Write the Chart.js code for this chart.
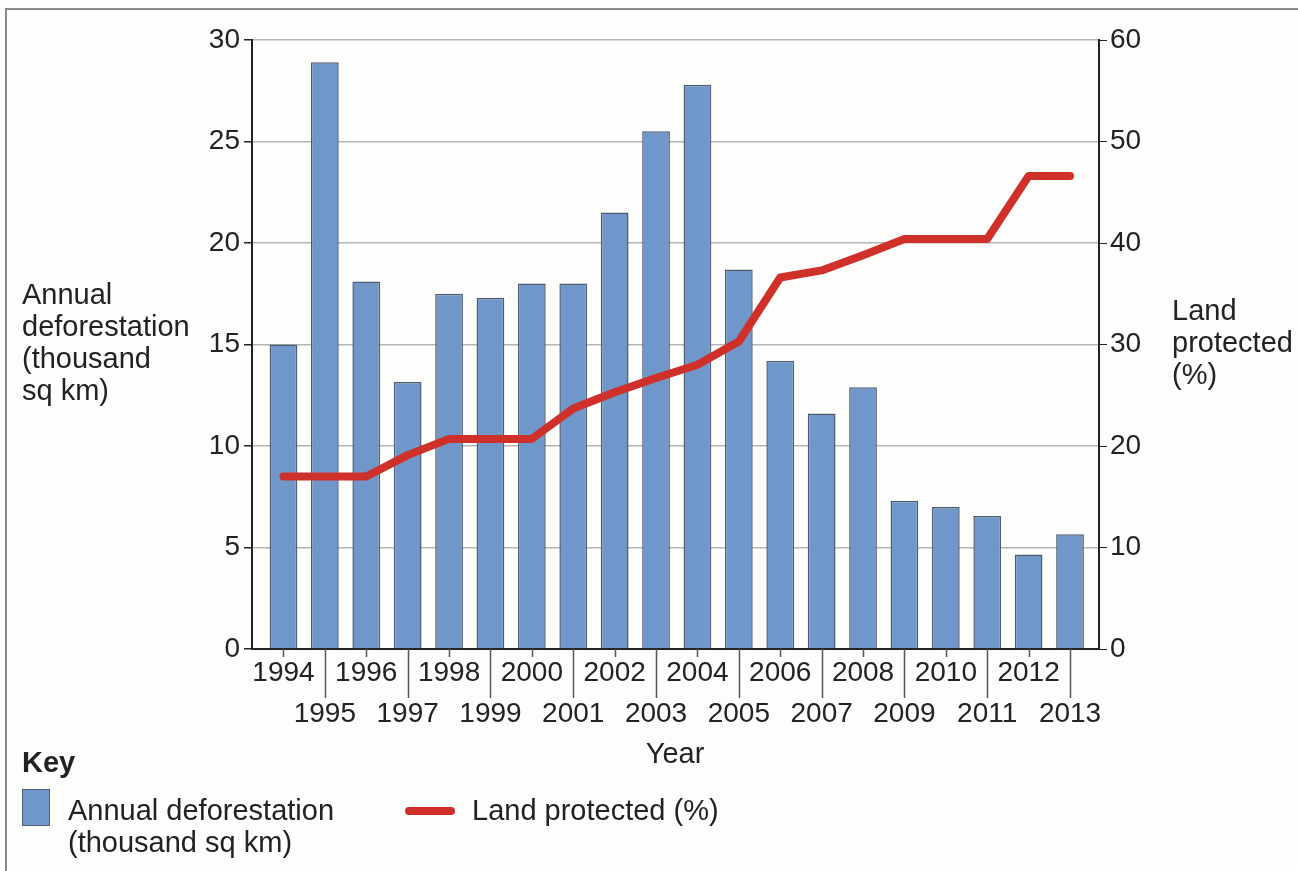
<!DOCTYPE html>
<html>
<head>
<meta charset="utf-8">
<script src="https://cdn.jsdelivr.net/npm/chart.js@4.4.1/dist/chart.umd.min.js"></script>
<style>
  body { margin: 0; background: #fdfdfb; font-family: "Liberation Sans", Arial, sans-serif; color: #222; }
  #wrap { position: relative; width: 1298px; height: 871px; overflow: hidden; }
  #frame { position: absolute; left: 5px; top: 8px; width: 1400px; height: 1000px;
           border-left: 2px solid #8a8a8a; border-top: 2px solid #8a8a8a; }
  canvas { position: absolute; left: 0; top: 0; }
  .t { position: absolute; font-size: 29px; line-height: 32px; white-space: nowrap; }
  .sw { position: absolute; }
</style>
</head>
<body>
<div id="wrap">
  <div id="frame"></div>
  <canvas id="chart" width="1298" height="871"></canvas>
  <div class="t" style="left:22px;top:278px">Annual<br>deforestation<br>(thousand<br>sq km)</div>
  <div class="t" style="left:1172px;top:294px">Land<br>protected<br>(%)</div>
  <div class="t" style="left:675px;top:737px;transform:translateX(-50%)">Year</div>
  <div class="t" style="left:22px;top:746px;font-weight:bold">Key</div>
  <div class="sw" style="left:22px;top:789px;width:26px;height:35px;background:#7097c9;border:1px solid #4f5d73"></div>
  <div class="t" style="left:68px;top:794px">Annual deforestation<br>(thousand sq km)</div>
  <div class="sw" style="left:405px;top:807px;width:50px;height:8px;background:#d0302a;border-radius:4px"></div>
  <div class="t" style="left:472px;top:794px">Land protected (%)</div>
</div>
<script>
const years = [1994, 1995, 1996, 1997, 1998, 1999, 2000, 2001, 2002, 2003,
               2004, 2005, 2006, 2007, 2008, 2009, 2010, 2011, 2012, 2013];
const deforestation = [15.0, 28.9, 18.1, 13.15, 17.5, 17.3, 18.0, 18.0, 21.5, 25.5,
                       27.8, 18.7, 14.2, 11.6, 12.9, 7.3, 7.0, 6.55, 4.65, 5.65];
const landProtected = [17.0, 17.0, 17.0, 19.1, 20.7, 20.7, 20.7, 23.7, 25.3, 26.7,
                       28.0, 30.3, 36.6, 37.3, 38.8, 40.4, 40.4, 40.4, 46.6, 46.6];

Chart.defaults.font.family = '"Liberation Sans", Arial, sans-serif';
Chart.defaults.font.size = 28;
Chart.defaults.color = "#222";

// short ticks under even years, long dividers under odd years
const yearTicks = {
  id: "yearTicks",
  afterDraw(chart) {
    const { ctx, scales: { x } } = chart;
    ctx.save();
    ctx.strokeStyle = "#555";
    ctx.lineWidth = 1.5;
    years.forEach((yr, i) => {
      const px = Math.round(x.getPixelForValue(i)) + 0.5;
      ctx.beginPath();
      ctx.moveTo(px, x.top);
      ctx.lineTo(px, x.top + (i % 2 ? 49 : 8));
      ctx.stroke();
    });
    ctx.restore();
  },
};

new Chart(document.getElementById("chart"), {
  type: "bar",
  data: {
    datasets: [
      {
        type: "line",
        label: "Land protected (%)",
        data: landProtected.map((v, i) => ({ x: i, y: v })),
        yAxisID: "y2",
        borderColor: "#d0302a",
        borderWidth: 8,
        borderCapStyle: "round",
        borderJoinStyle: "round",
        pointRadius: 0,
        tension: 0,
        order: 0,
      },
      {
        label: "Annual deforestation (thousand sq km)",
        data: deforestation.map((v, i) => ({ x: i, y: v })),
        yAxisID: "y",
        backgroundColor: "#7097c9",
        borderColor: "#4f5d73",
        borderWidth: 1.5,
        barPercentage: 0.67,
        categoryPercentage: 1,
        order: 1,
      },
    ],
  },
  options: {
    responsive: false,
    animation: false,
    layout: { padding: { top: 40, left: 0, right: 0, bottom: 0 } },
    plugins: { legend: { display: false }, tooltip: { enabled: false } },
    scales: {
      x: {
        type: "linear",
        offset: false,
        min: -0.76,
        max: 19.7,
        afterBuildTicks: s => { s.ticks = years.map((_, i) => ({ value: i })); },
        afterFit: s => { s.height = 222; },
        ticks: {
          autoSkip: false,
          maxRotation: 0,
          padding: -4,
          font: { size: 28, lineHeight: "41px" },
          callback: v => {
            const i = Math.round(v);
            return i % 2 ? ["", String(years[i])] : String(years[i]);
          },
        },
        grid: { offset: false, drawOnChartArea: false, drawTicks: true, tickLength: 8, tickColor: "transparent" },
        border: { color: "#222", width: 2 },
      },
      y: {
        position: "left",
        min: 0,
        max: 30,
        afterFit: s => { s.width = 252; },
        ticks: { stepSize: 5, padding: 4 },
        grid: { color: "#b5b5b5", lineWidth: 1.5, tickColor: "#222", tickLength: 8 },
        border: { color: "#222", width: 2 },
      },
      y2: {
        position: "right",
        min: 0,
        max: 60,
        afterFit: s => { s.width = 199; },
        ticks: { stepSize: 10, padding: 3 },
        grid: { drawOnChartArea: false, tickColor: "#222", tickLength: 8 },
        border: { color: "#222", width: 2 },
      },
    },
  },
  plugins: [yearTicks],
});
</script>
</body>
</html>
